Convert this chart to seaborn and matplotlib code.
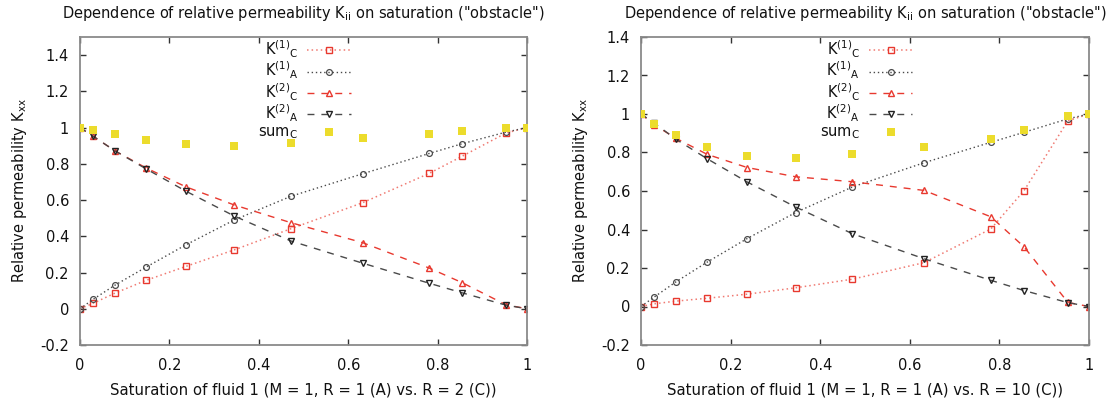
import numpy as np
import pandas as pd
import matplotlib
matplotlib.use("Agg")
import matplotlib.pyplot as plt
from matplotlib.ticker import MultipleLocator, FuncFormatter
import seaborn as sns

# Saturation of fluid 1 (same sampling for both runs)
saturation = [0.0, 0.030, 0.078, 0.148, 0.237, 0.345, 0.472, 0.632, 0.781, 0.855, 0.953, 1.0]

# Run 1: M = 1, R = 1 (A) vs. R = 2 (C)
k1c_r2 = [0.0, 0.031, 0.086, 0.157, 0.234, 0.325, 0.442, 0.585, 0.747, 0.842, 0.970, 1.0]
k1a_r2 = [0.0, 0.053, 0.130, 0.230, 0.353, 0.490, 0.621, 0.745, 0.857, 0.911, 0.975, 1.0]
k2c_r2 = [1.0, 0.951, 0.872, 0.777, 0.673, 0.573, 0.475, 0.365, 0.225, 0.144, 0.022, 0.0]
k2a_r2 = [1.0, 0.951, 0.872, 0.772, 0.649, 0.512, 0.374, 0.252, 0.141, 0.088, 0.020, 0.0]
sumc_r2 = [1.0, 0.984, 0.962, 0.931, 0.909, 0.900, 0.913, 0.944, 0.964, 0.979, 0.995, 1.0]

# Run 2: M = 1, R = 1 (A) vs. R = 10 (C)
k1c_r10 = [0.0, 0.014, 0.028, 0.043, 0.064, 0.097, 0.142, 0.228, 0.403, 0.602, 0.965, 1.0]
k1a_r10 = [0.0, 0.050, 0.128, 0.231, 0.353, 0.488, 0.621, 0.747, 0.853, 0.905, 0.975, 1.0]
k2c_r10 = [1.0, 0.943, 0.874, 0.790, 0.722, 0.674, 0.648, 0.603, 0.466, 0.310, 0.021, 0.0]
k2a_r10 = [1.0, 0.952, 0.869, 0.767, 0.647, 0.517, 0.378, 0.248, 0.136, 0.083, 0.020, 0.0]
sumc_r10 = [1.0, 0.948, 0.893, 0.826, 0.784, 0.769, 0.791, 0.826, 0.872, 0.916, 0.990, 1.0]

title = 'Dependence of relative permeability K$_{\\mathrm{ii}}$ on saturation ("obstacle")'
ylabel = "Relative permeability K$_{\\mathrm{xx}}$"
xlabels = [
    "Saturation of fluid 1 (M = 1, R = 1 (A) vs. R = 2 (C))",
    "Saturation of fluid 1 (M = 1, R = 1 (A) vs. R = 10 (C))",
]
series_labels = [
    r"K$^{(1)}{}_{\mathrm{C}}$",
    r"K$^{(1)}{}_{\mathrm{A}}$",
    r"K$^{(2)}{}_{\mathrm{C}}$",
    r"K$^{(2)}{}_{\mathrm{A}}$",
    r"sum$_{\mathrm{C}}$",
]
ylims = [(-0.2, 1.5), (-0.2, 1.4)]

sns.set_theme(style="white")
plt.rcParams["font.family"] = ["DejaVu Sans"]
plt.rcParams["mathtext.fontset"] = "dejavusans"
plt.rcParams["mathtext.default"] = "regular"

RED = "#e8392f"
RED_LINE = "#f07a72"
GRAY = "#4a4a4a"
YELLOW = "#ecdc2c"

fig = plt.figure(figsize=(11.12, 4.03), dpi=100)
axes = [
    fig.add_axes([80 / 1112, 1 - 345 / 403, 447 / 1112, 308 / 403]),
    fig.add_axes([641 / 1112, 1 - 345 / 403, 448 / 1112, 308 / 403]),
]

runs = [
    (k1c_r2, k1a_r2, k2c_r2, k2a_r2, sumc_r2),
    (k1c_r10, k1a_r10, k2c_r10, k2a_r10, sumc_r10),
]

for ax, (k1c, k1a, k2c, k2a, sumc), xl, yl in zip(axes, runs, xlabels, ylims):
    df = pd.DataFrame({"s": saturation, "k1c": k1c, "k1a": k1a,
                       "k2c": k2c, "k2a": k2a, "sumc": sumc})
    sns.lineplot(data=df, x="s", y="k1c", ax=ax, color=RED_LINE, lw=1.1,
                 linestyle=(0, (1, 2)), marker="s", ms=5,
                 markerfacecolor="none", markeredgecolor=RED, mew=1.0,
                 label=series_labels[0])
    sns.lineplot(data=df, x="s", y="k1a", ax=ax, color=GRAY, lw=1.0,
                 linestyle=(0, (1, 2)), marker="o", ms=4.2,
                 markerfacecolor="none", markeredgecolor=GRAY, mew=0.9,
                 label=series_labels[1])
    sns.lineplot(data=df, x="s", y="k2c", ax=ax, color=RED, lw=1.0,
                 linestyle=(0, (5, 5)), marker="^", ms=4.5,
                 markerfacecolor="none", markeredgecolor=RED, mew=1.0,
                 label=series_labels[2])
    sns.lineplot(data=df, x="s", y="k2a", ax=ax, color=GRAY, lw=1.0,
                 linestyle=(0, (5, 5)), marker="v", ms=4.5,
                 markerfacecolor="none", markeredgecolor="#222222", mew=1.0,
                 label=series_labels[3])
    sns.scatterplot(data=df, x="s", y="sumc", ax=ax, color=YELLOW, marker="s",
                    s=26, linewidth=0, label=series_labels[4], zorder=4)

    ax.set_xlim(0, 1)
    ax.set_ylim(*yl)
    ax.xaxis.set_major_locator(MultipleLocator(0.2))
    ax.yaxis.set_major_locator(MultipleLocator(0.2))
    fmt = FuncFormatter(lambda v, p: "{:g}".format(round(v, 6)))
    ax.xaxis.set_major_formatter(fmt)
    ax.yaxis.set_major_formatter(fmt)
    ax.tick_params(direction="in", length=4, width=1, color="#333333",
                   top=True, right=True, bottom=True, left=True,
                   labelsize=10.5, labelcolor="#111111")
    ax.tick_params(axis="x", pad=9)
    ax.tick_params(axis="y", pad=8)
    for sp in ax.spines.values():
        sp.set_color("#8a8a8a")
        sp.set_linewidth(1.3)

    ax.set_title(title, fontsize=10.5, color="#111111", pad=14)
    ax.set_xlabel(xl, fontsize=10.7, color="#111111", labelpad=7)
    ax.set_ylabel(ylabel, fontsize=10.5, color="#111111", labelpad=8)

    leg = ax.legend(loc="upper right", bbox_to_anchor=(0.606, 0.995),
                    frameon=False, markerfirst=False, fontsize=10.5,
                    handlelength=3.0, handletextpad=0.6, labelspacing=0.0,
                    borderaxespad=0.0, borderpad=0.0)
    for t in leg.get_texts():
        t.set_ha("right")
        t.set_color("#111111")

fig.savefig("out.png", dpi=100)
